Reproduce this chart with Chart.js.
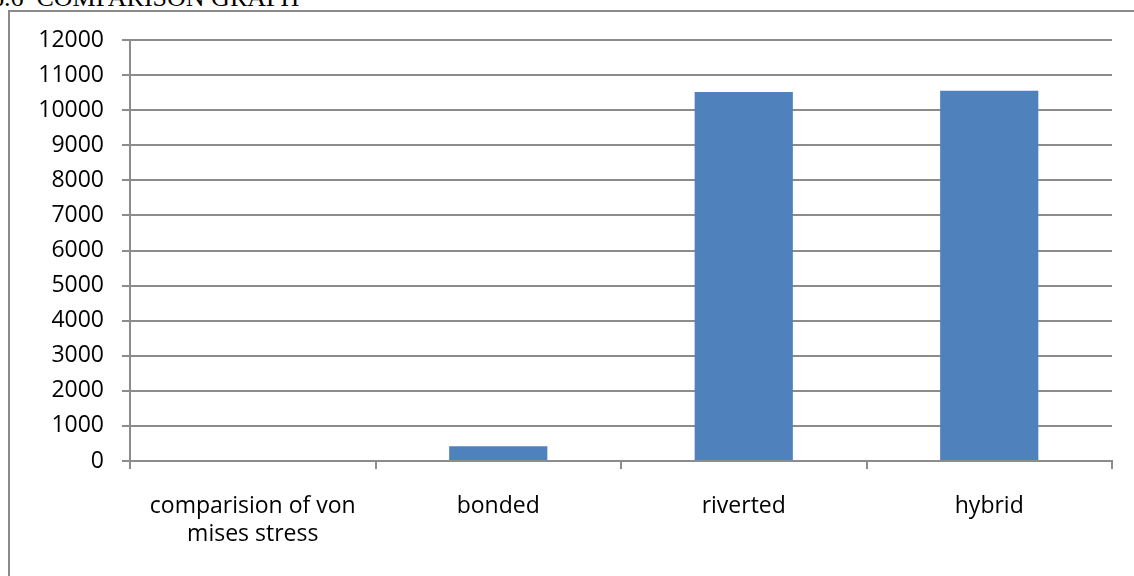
<!DOCTYPE html>
<html>
<head>
<meta charset="utf-8">
<script src="https://cdn.jsdelivr.net/npm/chart.js@4.4.1/dist/chart.umd.min.js"></script>
<style>
  html, body { margin: 0; padding: 0; background: #fff; overflow: hidden; }
  body { width: 1134px; height: 576px; position: relative; }
  #heading {
    position: absolute; left: -9px; top: -18px;
    font-family: "Liberation Serif", "DejaVu Serif", serif; font-size: 26px;
    color: #000; white-space: nowrap; line-height: 32px;
  }
  #frame {
    position: absolute; left: 8px; top: 10px; width: 1200px; height: 700px;
    border-top: 2px solid #8a8a8a; border-left: 2px solid #8a8a8a;
  }
  #wrap { position: absolute; left: 0; top: 0; width: 1134px; height: 576px; }
</style>
</head>
<body>
<div id="heading">6.6&nbsp;&nbsp;COMPARISON GRAPH</div>
<div id="frame"></div>
<div id="wrap"><canvas id="stressChart"></canvas></div>
<script>
const categories = [['comparision of von', 'mises stress'], 'bonded', 'riverted', 'hybrid'];
const stressValues = [null, 420, 10520, 10550];
const yTicks = [0, 1000, 2000, 3000, 4000, 5000, 6000, 7000, 8000, 9000, 10000, 11000, 12000];

const axisGrey = '#8c8c8c';
const labelFont = { family: '"Open Sans", "Noto Sans", sans-serif', size: 23, lineHeight: 1.2 };

// size the canvas to the page before the chart is built
const canvas = document.getElementById('stressChart');
canvas.width = 1134; canvas.height = 576;
canvas.style.width = '1134px'; canvas.style.height = '576px';

new Chart(canvas, {
  type: 'bar',
  data: {
    labels: categories,
    datasets: [{
      data: stressValues,
      backgroundColor: '#4f81bd',
      borderWidth: 0,
      barPercentage: 0.4,
      categoryPercentage: 1
    }]
  },
  options: {
    responsive: false,
    animation: false,
    devicePixelRatio: 1,
    layout: { padding: { left: 0, right: 22, top: 40, bottom: 0 } },
    plugins: { legend: { display: false }, tooltip: { enabled: false } },
    scales: {
      x: {
        grid: { display: true, drawOnChartArea: false, drawTicks: true, tickLength: 8, color: axisGrey, lineWidth: 2, offset: true },
        border: { display: true, color: axisGrey, width: 2 },
        ticks: { color: '#000', font: labelFont, padding: 24, maxRotation: 0, autoSkip: false },
        afterFit: scale => { scale.height = 115; }
      },
      y: {
        min: 0,
        max: 12000,
        afterBuildTicks: scale => { scale.ticks = yTicks.map(v => ({ value: v })); },
        grid: { color: axisGrey, lineWidth: 2, tickLength: 8 },
        border: { display: true, color: axisGrey, width: 2 },
        ticks: { color: '#000', font: labelFont, padding: 18, callback: v => String(v) },
        afterFit: scale => { scale.width = 130; }
      }
    }
  }
});
</script>
</body>
</html>
